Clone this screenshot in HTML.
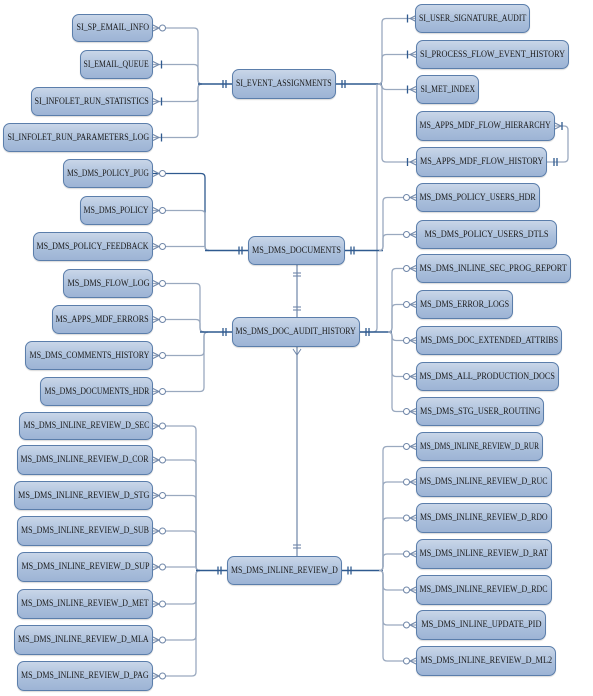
<!DOCTYPE html>
<html><head><meta charset="utf-8"><style>
html,body{margin:0;padding:0;background:#fff;}
#c{position:relative;width:593px;height:696px;overflow:hidden;}
.b{position:absolute;box-sizing:border-box;border:1px solid #5b7eab;border-radius:7px;
background:linear-gradient(#c9d6e8,#a9bedb 60%,#9db4d5);
font-family:"Liberation Serif",serif;font-size:9.5px;color:#1a1a1a;
display:flex;align-items:center;justify-content:center;white-space:nowrap;overflow:visible;
box-shadow:0 1px 1px rgba(0,0,0,.15);}
.b span{display:inline-block;transform-origin:center center;}
svg{position:absolute;left:0;top:0;}
</style></head><body><div id="c">
<svg id="s" width="593" height="696"></svg>
</div>
<script>
var c=document.getElementById('c'),s=document.getElementById('s'),out='';
function box(t,x1,y1,x2,y2){var d=document.createElement('div');d.className='b';
var sp=document.createElement('span');sp.textContent=t;d.appendChild(sp);
d.style.left=x1+'px';d.style.top=y1+'px';d.style.width=(x2-x1)+'px';d.style.height=(y2-y1)+'px';c.appendChild(d);
var w=sp.offsetWidth,avail=(x2-x1)-8;var k=Math.min(0.88,avail/w);sp.style.transform='scaleX('+k+')';}
var DK='#2f5a8f',LT='#9aa9bf';
function ln(d,col,w){out+='<path d="'+d+'" fill="none" stroke="'+(col||LT)+'" stroke-width="'+(w||1.3)+'"/>';}
function bar(x,y){ln('M'+x+' '+(y-4)+'V'+(y+4),DK,1.3);}
function vbar(x,y){ln('M'+(x-4)+' '+y+'H'+(x+4),'#6f86a8',1.1);}
function leftChild(xr,y,bx,cy,col,circ){
  var r=4, dir=cy>y?1:-1;
  if(Math.abs(cy-y)<5){ln('M'+xr+' '+y+'H'+bx,col);}
  else ln('M'+xr+' '+y+'H'+(bx-r)+'Q'+bx+' '+y+' '+bx+' '+(y+dir*r)+'V'+(cy-dir*r)+'Q'+bx+' '+cy+' '+(bx+r)+' '+cy,col);
  ln('M'+xr+' '+(y-3)+'L'+(xr+6)+' '+y+'L'+xr+' '+(y+3),'#6f86a8',1);
  if(circ){out+='<circle cx="'+(xr+9.5)+'" cy="'+y+'" r="3" fill="#fff" stroke="#6f86a8" stroke-width="1"/>';}
  else bar(xr+8.5,y);
}
function rightChild(xl,y,bx,cy,col,circ){
  var r=4, dir=cy>y?1:-1;
  if(Math.abs(cy-y)<5){ln('M'+xl+' '+y+'H'+bx,col);}
  else ln('M'+xl+' '+y+'H'+(bx+r)+'Q'+bx+' '+y+' '+bx+' '+(y+dir*r)+'V'+(cy-dir*r)+'Q'+bx+' '+cy+' '+(bx-r)+' '+cy,col);
  ln('M'+xl+' '+(y-3)+'L'+(xl-6)+' '+y+'L'+xl+' '+(y+3),'#6f86a8',1);
  if(circ){out+='<circle cx="'+(xl-9.5)+'" cy="'+y+'" r="3" fill="#fff" stroke="#6f86a8" stroke-width="1"/>';}
  else bar(xl-8.5,y);
}
function center(x1,x2,cy,lb,rb){
  if(lb){ln('M'+lb+' '+cy+'H'+x1,DK,1.6);bar(x1-6,cy);bar(x1-9,cy);}
  if(rb){ln('M'+x2+' '+cy+'H'+rb,DK,1.6);bar(x2+6,cy);bar(x2+9,cy);}
}
leftChild(153,28,198,84,LT,true);leftChild(153,64.5,198,84,LT,false);leftChild(153,101.5,198,84,LT,false);leftChild(153,137.5,198,84,LT,false);
center(232,336,84,198,382);
rightChild(416,18.5,382,84,LT,false);rightChild(416,54.5,382,84,LT,false);rightChild(416,89.5,382,84,LT,false);rightChild(416,162,382,84,LT,false);
ln('M555 126H564Q568 126 568 130V158Q568 162 564 162H547',LT);
ln('M555 123L561 126L555 129','#6f86a8',1);bar(562,126);bar(554,162);bar(557,162);
ln('M377 84V328Q377 332 373 332H360',LT);
leftChild(153,173.5,205,250.5,DK,true);leftChild(153,210.5,205,250.5,LT,true);leftChild(153,246.5,205,250.5,LT,true);
center(248,345,250.5,205,383);
rightChild(416,197.5,383,250.5,LT,true);rightChild(416,234.5,383,250.5,LT,true);
leftChild(153,283.5,200,332,LT,true);leftChild(153,319.5,200,332,LT,true);leftChild(153,355.5,204,332,LT,true);leftChild(153,391.5,204,332,LT,true);
center(232,360,332,200,392);
rightChild(416,268.5,392,332,LT,true);rightChild(416,304.5,392,332,LT,true);rightChild(416,340.5,392,332,LT,true);rightChild(416,376.5,392,332,LT,true);rightChild(416,411.5,392,332,LT,true);
ln('M297 265V317','#6f86a8',1.2);vbar(297,273);vbar(297,276);vbar(297,307);vbar(297,310);
ln('M297 347V556','#6f86a8',1.2);vbar(297,545);vbar(297,548);
ln('M293 349L297 355L301 349','#6f86a8',1);
[426,460,495.5,531,567,604,640,676].forEach(function(y){leftChild(153,y,196,570.5,LT,true);});
center(227,342,570.5,196,383);
[446.5,482,518,554,590,625,661].forEach(function(y){rightChild(416,y,383,570.5,LT,true);});
s.innerHTML=out;
var B=[
['SI_SP_EMAIL_INFO',72,14,153,42],['SI_EMAIL_QUEUE',80,50,153,79],['SI_INFOLET_RUN_STATISTICS',31,87,153,116],['SI_INFOLET_RUN_PARAMETERS_LOG',3,123,153,152],
['SI_EVENT_ASSIGNMENTS',232,69,336,99],
['SI_USER_SIGNATURE_AUDIT',415,4,530,33],['SI_PROCESS_FLOW_EVENT_HISTORY',416,40,569,69],['SI_MET_INDEX',416,75,479,104],['MS_APPS_MDF_FLOW_HIERARCHY',416,111,555,141],['MS_APPS_MDF_FLOW_HISTORY',416,147,547,177],
['MS_DMS_POLICY_PUG',63,159,153,188],['MS_DMS_POLICY',80,196,153,225],['MS_DMS_POLICY_FEEDBACK',33,232,153,261],['MS_DMS_DOCUMENTS',248,236,345,265],
['MS_DMS_POLICY_USERS_HDR',416,183,540,212],['MS_DMS_POLICY_USERS_DTLS',416,220,557,249],
['MS_DMS_FLOW_LOG',63,269,153,298],['MS_APPS_MDF_ERRORS',52,305,153,334],['MS_DMS_COMMENTS_HISTORY',25,341,153,370],['MS_DMS_DOCUMENTS_HDR',40,377,153,406],
['MS_DMS_DOC_AUDIT_HISTORY',232,317,360,347],
['MS_DMS_INLINE_SEC_PROG_REPORT',416,254,571,283],['MS_DMS_ERROR_LOGS',416,290,513,319],['MS_DMS_DOC_EXTENDED_ATTRIBS',416,326,562,355],['MS_DMS_ALL_PRODUCTION_DOCS',416,362,559,391],['MS_DMS_STG_USER_ROUTING',416,397,544,426],
['MS_DMS_INLINE_REVIEW_D_SEC',19,412,153,440],['MS_DMS_INLINE_REVIEW_D_COR',17,445,153,475],['MS_DMS_INLINE_REVIEW_D_STG',14,481,153,510],['MS_DMS_INLINE_REVIEW_D_SUB',17,516,153,546],
['MS_DMS_INLINE_REVIEW_D_SUP',17,552,153,582],['MS_DMS_INLINE_REVIEW_D_MET',17,589,153,619],['MS_DMS_INLINE_REVIEW_D_MLA',14,625,153,655],['MS_DMS_INLINE_REVIEW_D_PAG',17,661,153,691],
['MS_DMS_INLINE_REVIEW_D',227,556,342,585],
['MS_DMS_INLINE_REVIEW_D_RUR',416,432,543,461],['MS_DMS_INLINE_REVIEW_D_RUC',416,467,552,497],['MS_DMS_INLINE_REVIEW_D_RDO',416,503,552,533],['MS_DMS_INLINE_REVIEW_D_RAT',416,539,552,569],
['MS_DMS_INLINE_REVIEW_D_RDC',416,575,552,605],['MS_DMS_INLINE_UPDATE_PID',416,610,546,640],['MS_DMS_INLINE_REVIEW_D_ML2',416,646,556,676]];
B.forEach(function(b){box.apply(null,b);});
</script>
</body></html>
